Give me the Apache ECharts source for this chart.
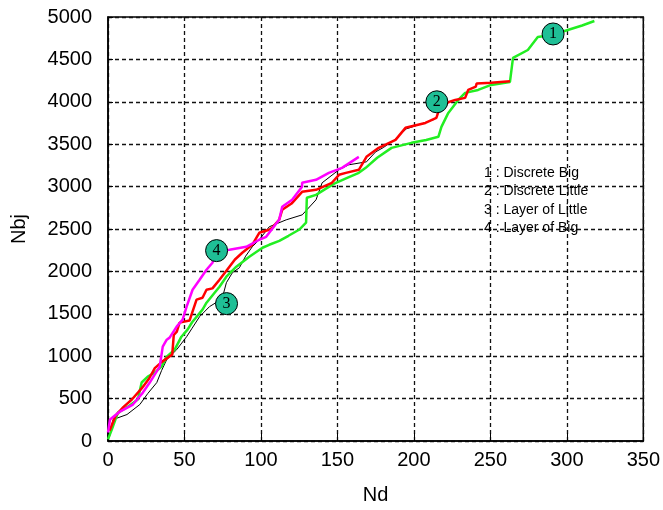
<!DOCTYPE html>
<html>
<head>
<meta charset="utf-8">
<script src="https://cdn.jsdelivr.net/npm/echarts@6/dist/echarts.min.js"></script>
<style>
  html, body { margin: 0; padding: 0; background: #fff; }
  #chart { width: 663px; height: 510px; }
</style>
</head>
<body>
<div id="chart"></div>
<script>
// Nd (x) / Nbj (y) pairs
const discreteBig = [
    [0, 20], [2.6, 140], [6.5, 335], [13, 405], [19.5, 490], [22, 690], [26, 760],
    [30.6, 806], [35, 877], [38.4, 995], [43.6, 1077], [48, 1230], [52, 1313], [55, 1400],
    [61.8, 1549], [64.4, 1631], [72.9, 1820], [77.4, 1937], [83.9, 2055], [92.4, 2173],
    [94.3, 2197], [101, 2279], [105.4, 2314], [112, 2360], [118, 2420], [124.9, 2491],
    [129.5, 2574], [130, 2868], [136, 2903], [142, 2970], [149, 3045], [156, 3100],
    [164, 3162], [168.5, 3221], [176, 3340], [185.4, 3457], [198.4, 3516], [208, 3550],
    [216, 3587], [218, 3704], [222.5, 3869], [229, 4022], [233.5, 4105], [242, 4140],
    [250.5, 4199], [262.8, 4234], [264.8, 4517], [274.5, 4611], [281, 4764], [291, 4790],
    [300.6, 4847], [310, 4900], [318, 4953]
];
const discreteLittle = [
    [1, 120], [5, 300], [10, 400], [15.6, 489], [22, 620], [27, 740], [30.6, 860],
    [35, 930], [40, 995], [42, 1019], [43, 1250], [45, 1290], [46.8, 1396], [53.3, 1420],
    [57.9, 1667], [61.8, 1690], [64.4, 1784], [68.3, 1800], [72.9, 1902], [79.4, 2055],
    [83, 2140], [87.8, 2220], [94.3, 2314], [98.9, 2455], [105.4, 2491], [107.3, 2514],
    [111.9, 2609], [113.9, 2726], [120, 2800], [126.9, 2938], [136, 2962], [146.4, 3045],
    [151, 3139], [155.5, 3162], [164, 3198], [169, 3351], [177, 3457], [188, 3551],
    [194.5, 3693], [207.5, 3751], [214.7, 3810], [216, 3881], [222.5, 3995], [227, 4022],
    [233.5, 4046], [235.5, 4140], [240.5, 4180], [241, 4215], [250.5, 4225], [262.8, 4242]
];
const layerOfLittle = [
    [1, 50], [3.3, 253], [12.4, 312], [20.8, 430], [26, 560], [31.9, 689], [35, 830],
    [38.4, 960], [44.9, 1077], [51.4, 1230], [55, 1330], [59.9, 1467], [66.4, 1585],
    [71.6, 1643], [74.8, 1690], [77.4, 1867], [81.3, 1984], [85.9, 2043], [90, 2180],
    [94.3, 2290], [98.9, 2373], [105.4, 2526], [116.5, 2608], [127, 2667], [136, 2844],
    [140, 3045], [151, 3198], [157.4, 3257], [169, 3292], [175, 3410], [180, 3460],
    [188, 3560], [195, 3680], [205, 3740], [213, 3790]
];
const layerOfBig = [
    [0, 100], [1.3, 253], [7.8, 347], [16.3, 430], [22.8, 571], [27.3, 689], [33.8, 877],
    [35.8, 1113], [38.4, 1195], [40.3, 1219], [44.9, 1349], [48.8, 1431], [51.4, 1585],
    [55.3, 1784], [59.9, 1902], [64.4, 2020], [68.3, 2102], [71, 2245], [79.4, 2255],
    [90.4, 2290], [98.9, 2373], [103.4, 2408], [111.9, 2608], [113.9, 2762], [120.4, 2844],
    [126.9, 2997], [126.9, 3045], [136, 3080], [144.4, 3162], [153, 3221], [164, 3351]
];
// numbered markers
const markerPoints = [[291, 4800, '1'], [215, 4000, '2'], [77.5, 1620, '3'], [71, 2245, '4']];
const legendLines = ['1 : Discrete Big', '2 : Discrete Little', '3 : Layer of Little', '4 : Layer of Big'];

const chart = echarts.init(document.getElementById('chart'));

const lineSeries = (data, color, width) => ({
    type: 'line',
    data: data,
    showSymbol: false,
    symbol: 'none',
    lineStyle: {color: color, width: width},
    itemStyle: {color: color}
});

const splitStyle = {show: true, lineStyle: {color: '#111', type: [4, 3], width: 1.3}};
const labelFont = {color: '#000', fontSize: 20, fontFamily: 'Liberation Sans'};

chart.setOption({
    animation: false,
    backgroundColor: '#fff',
    grid: {
        left: 108, right: 17, top: 17, bottom: 69,
        show: true, borderColor: '#000', borderWidth: 1.5
    },
    xAxis: {
        type: 'value', min: 0, max: 350, interval: 50,
        name: 'Nd', nameLocation: 'middle', nameGap: 44,
        nameTextStyle: labelFont,
        axisLine: {show: true, lineStyle: {color: '#000', width: 1.5}},
        axisTick: {show: true, inside: true, length: 8, lineStyle: {color: '#000'}},
        axisLabel: Object.assign({margin: 9, formatter: (v) => String(v)}, labelFont),
        splitLine: splitStyle
    },
    yAxis: {
        type: 'value', min: 0, max: 5000, interval: 500,
        name: 'Nbj', nameLocation: 'middle', nameGap: 79, nameRotate: 90,
        nameTextStyle: labelFont,
        axisLine: {show: true, lineStyle: {color: '#000', width: 1.5}},
        axisTick: {show: true, inside: true, length: 5, lineStyle: {color: '#000'}},
        axisLabel: Object.assign({margin: 16, formatter: (v) => String(v)}, labelFont),
        splitLine: splitStyle
    },
    graphic: legendLines.map((t, i) => ({
        type: 'text',
        left: 484,
        top: 166 + i * 18.5,
        z: 100,
        style: {text: t, fill: '#000', fontSize: 14, fontFamily: 'Liberation Sans'}
    })),
    series: [
        lineSeries(layerOfLittle, '#000', 1),
        lineSeries(discreteBig, '#22ee22', 2.5),
        lineSeries(discreteLittle, '#ff0000', 2.5),
        lineSeries(layerOfBig, '#ff00ff', 2.5),
        {
            type: 'scatter',
            z: 10,
            data: markerPoints,
            symbolSize: 22,
            itemStyle: {color: '#1fbf96', borderColor: '#000', borderWidth: 1, opacity: 1},
            label: {
                show: true, position: 'inside',
                formatter: (p) => p.data[2],
                color: '#000', fontSize: 16, fontFamily: 'Liberation Serif'
            }
        }
    ]
});
</script>
</body>
</html>
